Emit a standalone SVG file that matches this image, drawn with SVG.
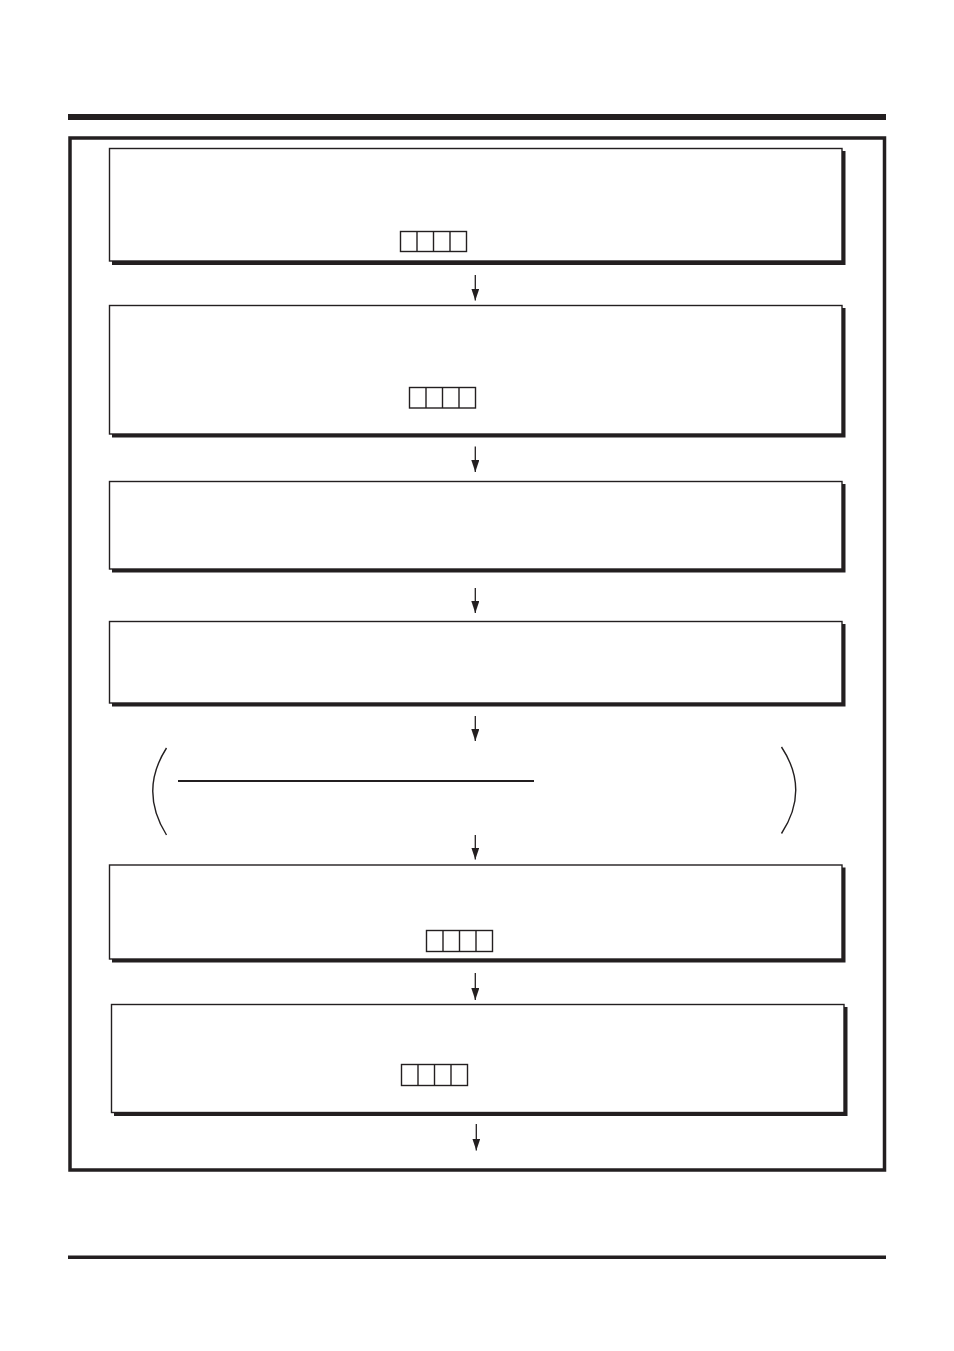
<svg xmlns="http://www.w3.org/2000/svg" width="954" height="1351" viewBox="0 0 954 1351">
<style>
.shadow{fill:#231f20}
.box{fill:#fff;stroke:#231f20;stroke-width:1.4}
.cell{fill:none;stroke:#231f20;stroke-width:1.4}
.conn{stroke:#231f20;stroke-width:1.3;fill:none}
.paren{stroke:#231f20;stroke-width:1.4;fill:none}
</style>
<defs>
<marker id="ah" markerWidth="12" markerHeight="8" refX="12" refY="4" orient="auto" markerUnits="userSpaceOnUse" viewBox="0 0 12 8">
<path d="M0,0 L12,4 L0,8 Z" fill="#231f20"/>
</marker>
</defs>
<rect width="954" height="1351" fill="#fff"/>
<rect x="68" y="114" width="818" height="6" fill="#231f20"/>
<rect x="70" y="138" width="814.5" height="1032" fill="none" stroke="#231f20" stroke-width="3.5"/>
<rect x="68" y="1255.5" width="818" height="3.5" fill="#231f20"/>

<g id="node1">
<rect class="shadow" x="112" y="151" width="733.5" height="114"/>
<rect class="box" x="109.5" y="148.5" width="732.5" height="112.5"/>
<g class="cell"><rect x="400.5" y="231.5" width="66" height="20"/><line x1="417" y1="231.5" x2="417" y2="251.5"/><line x1="433.5" y1="231.5" x2="433.5" y2="251.5"/><line x1="450" y1="231.5" x2="450" y2="251.5"/></g>
</g>
<g id="node2">
<rect class="shadow" x="112" y="308" width="733.5" height="129.5"/>
<rect class="box" x="109.5" y="305.5" width="732.5" height="128.5"/>
<g class="cell"><rect x="409.5" y="387.5" width="66" height="20.5"/><line x1="426" y1="387.5" x2="426" y2="408"/><line x1="442.5" y1="387.5" x2="442.5" y2="408"/><line x1="459" y1="387.5" x2="459" y2="408"/></g>
</g>
<g id="node3">
<rect class="shadow" x="112" y="484" width="733.5" height="88.5"/>
<rect class="box" x="109.5" y="481.5" width="732.5" height="87.5"/>
</g>
<g id="node4">
<rect class="shadow" x="112" y="624" width="733.5" height="82.5"/>
<rect class="box" x="109.5" y="621.5" width="732.5" height="81.5"/>
</g>
<g id="node5">
<path class="paren" d="M166.5,748 Q139,791 166.5,835"/>
<line x1="178" y1="781" x2="534" y2="781" stroke="#231f20" stroke-width="2.2"/>
<path class="paren" d="M781.5,747 Q810,790 781.5,833.5"/>
</g>
<g id="node6">
<rect class="shadow" x="112" y="867.5" width="733.5" height="95"/>
<rect class="box" x="109.5" y="865" width="732.5" height="94"/>
<g class="cell"><rect x="426.5" y="930.5" width="66" height="21"/><line x1="443" y1="930.5" x2="443" y2="951.5"/><line x1="459.5" y1="930.5" x2="459.5" y2="951.5"/><line x1="476" y1="930.5" x2="476" y2="951.5"/></g>
</g>
<g id="node7">
<rect class="shadow" x="114" y="1007" width="733.5" height="109"/>
<rect class="box" x="111.5" y="1004.5" width="732.5" height="108"/>
<g class="cell"><rect x="401.5" y="1064.5" width="66" height="21"/><line x1="418" y1="1064.5" x2="418" y2="1085.5"/><line x1="434.5" y1="1064.5" x2="434.5" y2="1085.5"/><line x1="451" y1="1064.5" x2="451" y2="1085.5"/></g>
</g>

<g id="connectors">
<line class="conn" x1="475.3" y1="275" x2="475.3" y2="300.5" marker-end="url(#ah)"/>
<line class="conn" x1="475.3" y1="446.5" x2="475.3" y2="472" marker-end="url(#ah)"/>
<line class="conn" x1="475.3" y1="588" x2="475.3" y2="613" marker-end="url(#ah)"/>
<line class="conn" x1="475.3" y1="716" x2="475.3" y2="741" marker-end="url(#ah)"/>
<line class="conn" x1="475.3" y1="835" x2="475.3" y2="859.5" marker-end="url(#ah)"/>
<line class="conn" x1="475.3" y1="973" x2="475.3" y2="1000" stroke="#999" marker-end="url(#ah)"/>
<line class="conn" x1="476.3" y1="1124" x2="476.3" y2="1150.5" marker-end="url(#ah)"/>
</g>
</svg>
